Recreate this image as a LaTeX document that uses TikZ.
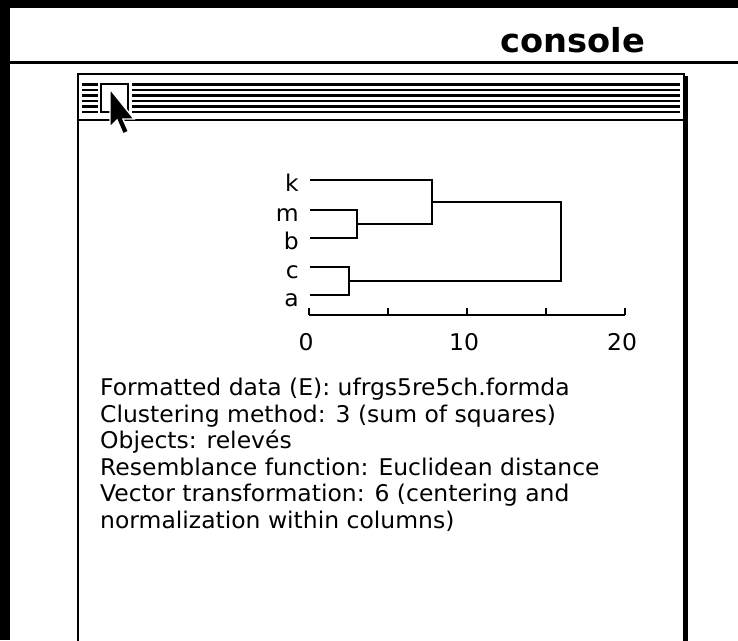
\documentclass[tikz,border=0pt]{standalone}
\usepackage{fontspec}
\setmainfont{DejaVu Sans}[FakeStretch=1.02]
\usetikzlibrary{positioning,calc}
\tikzstyle{frame}=[fill=black]
\tikzstyle{branch}=[line width=2.6pt]
\tikzstyle{stripe}=[line width=2.6pt]
\tikzstyle{leaf}=[anchor=base east, inner sep=0pt, font=\fontsize{23}{26}\selectfont]
\tikzstyle{ticklabel}=[anchor=base, inner sep=0pt, font=\fontsize{23}{26}\selectfont]
\tikzstyle{info}=[anchor=north west, align=left, inner sep=0pt, font=\fontsize{23}{26.5}\selectfont]

\begin{document}
\begin{tikzpicture}[x=1pt, y=-1pt]

        \useasboundingbox (0,0) rectangle (738,640);
        \fill[white] (0,0) rectangle (738,640);

        % Console window
        \fill[frame] (0,0) rectangle (738,8);
        \fill[frame] (0,0) rectangle (10,640);
        \draw[line width=3pt] (10,62) -- (738,62);
        \node (console) [anchor=base, inner sep=0pt] at (573,52) {\fontsize{33}{36}\selectfont\bfseries console};

        % Inner window
        \draw[line width=2.6pt] (78,641) -- (78,74) -- (684,74) -- (684,641);
        \fill[frame] (684,76) rectangle (688,641);
        \foreach \y in {84.5,90,95.5,101,106.5,112}
            \draw[stripe] (82,\y) -- (680,\y);
        \draw[line width=2.6pt] (78,120) -- (684,120);

        % Close box and cursor
        \fill[white] (98,81) rectangle (132,116);
        \draw[line width=2.6pt, fill=white] (101,84) rectangle (128,112);
        \filldraw[fill=black, draw=white, line width=1.4pt] (110,89) -- (110,127) -- (117,120) -- (123,134) -- (128.5,131.5) -- (123,119) -- (134,119) -- cycle;

        % Dendrogram
        \coordinate (k) at (310,180);
        \coordinate (m) at (310,210);
        \coordinate (b) at (310,238);
        \coordinate (c) at (310,267);
        \coordinate (a) at (310,295);
        \coordinate (mb) at (357,224);
        \coordinate (kmb) at (432,202);
        \coordinate (ca) at (349,281);
        \coordinate (root) at (561,241);

        \foreach \leaf in {k,m,b,c,a}
            \node[leaf] (\leaf-label) at ($(\leaf)+(-11,11)$) {\leaf};

        \draw[branch] (m) -| (mb) |- (b);
        \draw[branch] (k) -| (kmb) |- (mb);
        \draw[branch] (c) -| (ca) |- (a);
        \draw[branch] (kmb) -| (root) |- (ca);

        %Axis
        \coordinate (ax0) at (309,315);
        \coordinate (ax20) at (625,315);
        \draw[branch] (ax0) -- (ax20);
        \foreach \i in {0,...,4}
            \draw[branch] ($(ax0)!\i/4!(ax20)$) -- +(0,-7);
        \foreach \v/\i in {0/0,10/2,20/4}
            \node[ticklabel] (tick\v) at ($(ax0)!\i/4!(ax20)+(-3,35)$) {\v};

        % Run info
        \node[info] (info) at (100,378) {Formatted data (E): ufrgs5re5ch.formda\\
            Clustering method: 3 (sum of squares)\\
            Objects: relevés\\
            Resemblance function: Euclidean distance\\
            Vector transformation: 6 (centering and\\
            normalization within columns)};

\end{tikzpicture}
\end{document}
